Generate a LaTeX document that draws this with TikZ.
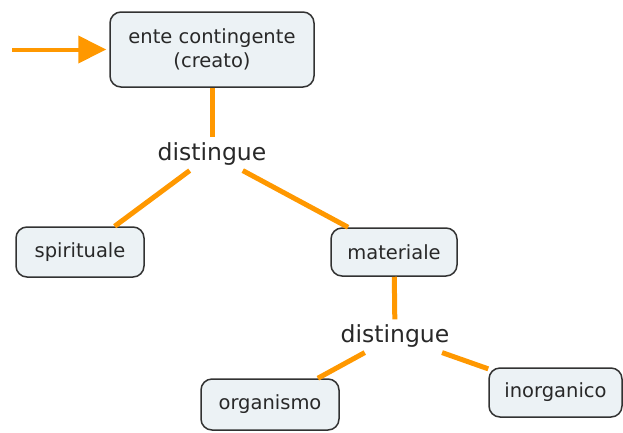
\documentclass[tikz,border=0pt]{standalone}
\usepackage{fontspec}
\setmainfont{DejaVu Sans}
\usetikzlibrary{arrows.meta}
\definecolor{cmorange}{RGB}{255,152,0}
\definecolor{cmfill}{RGB}{236,242,245}
\definecolor{cmborder}{RGB}{50,50,50}
\definecolor{cmtext}{RGB}{40,40,40}
\tikzset{
  concept/.style={draw=cmborder, line width=1.5pt, fill=cmfill, rounded corners=11pt,
    text=cmtext, font=\fontsize{19.5}{24.5}\selectfont, align=center, inner sep=0pt},
  linkword/.style={text=cmtext, font=\fontsize{23.5}{27}\selectfont, inner xsep=3pt, inner ysep=5pt},
  conn/.style={cmorange, line width=5pt},
}
\begin{document}
\begin{tikzpicture}[x=1pt,y=-1pt]
\useasboundingbox (0,0) rectangle (623,432);
\node[concept, minimum width=204pt, minimum height=75pt] (ente) at (212,49.5) {ente contingente\\(creato)};
\node[linkword] (d1) at (212,154) {distingue};
\node[concept, minimum width=128pt, minimum height=50pt] (spir) at (80,252) {spirituale};
\node[concept, minimum width=126pt, minimum height=48pt] (mat) at (394,252) {materiale};
\node[linkword] (d2) at (395,336) {distingue};
\node[concept, minimum width=138pt, minimum height=51pt] (org) at (270,404.5) {organismo};
\node[concept, minimum width=133pt, minimum height=49pt] (inorg) at (555.5,392.5) {inorganico};
\coordinate (start) at (12,49.5);
\draw[cmorange, line width=4pt, -{Triangle[length=28pt,width=27pt]}, shorten >=3pt] (start) -- (ente);
\draw[conn] (ente) -- (d1);
\draw[conn] (d1) -- (spir);
\draw[conn] (d1) -- (mat);
\draw[conn] (mat) -- (d2);
\draw[conn] (d2) -- (org);
\draw[conn] (d2) -- (inorg);
\end{tikzpicture}
\end{document}
